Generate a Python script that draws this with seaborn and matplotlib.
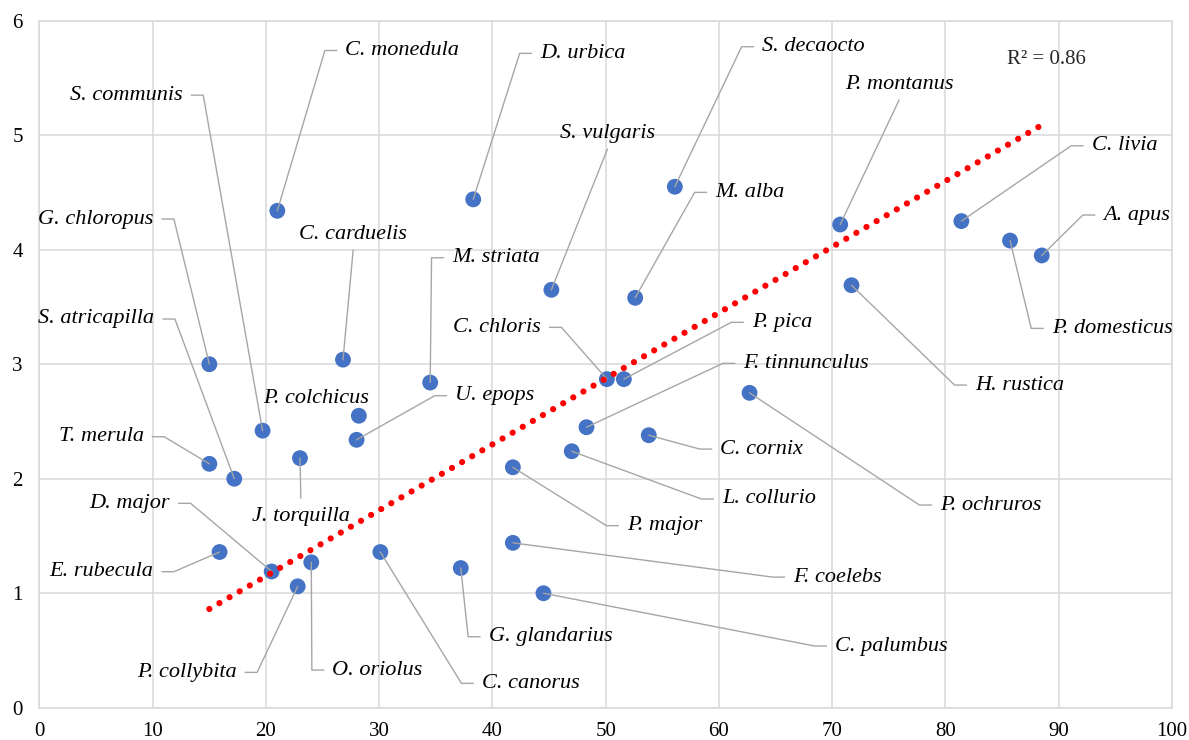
import numpy as np
import pandas as pd
import seaborn as sns
import matplotlib.pyplot as plt

# data
species = ["C. monedula", "D. urbica", "S. decaocto", "S. vulgaris", "M. alba",
           "P. montanus", "C. livia", "P. domesticus", "A. apus", "H. rustica",
           "G. chloropus", "C. carduelis", "M. striata", "C. chloris", "P. pica",
           "P. ochruros", "F. tinnunculus", "C. cornix", "L. collurio", "P. major",
           "F. coelebs", "G. glandarius", "C. palumbus", "U. epops", "P. colchicus",
           "S. communis", "S. atricapilla", "T. merula", "J. torquilla", "D. major",
           "E. rubecula", "P. collybita", "O. oriolus", "C. canorus"]
x_vals = [21.0, 38.3, 56.1, 45.2, 52.6,
          70.7, 81.4, 85.7, 88.5, 71.7,
          15.0, 26.8, 34.5, 50.1, 51.6,
          62.7, 48.3, 53.8, 47.0, 41.8,
          41.8, 37.2, 44.5, 28.0, 28.2,
          19.7, 17.2, 15.0, 23.0, 20.5,
          15.9, 22.8, 24.0, 30.1]
y_vals = [4.34, 4.44, 4.55, 3.65, 3.58,
          4.22, 4.25, 4.08, 3.95, 3.69,
          3.00, 3.04, 2.84, 2.87, 2.87,
          2.75, 2.45, 2.38, 2.24, 2.10,
          1.44, 1.22, 1.00, 2.34, 2.55,
          2.42, 2.00, 2.13, 2.18, 1.19,
          1.36, 1.06, 1.27, 1.36]
x_ticks = list(range(0, 101, 10))
y_ticks = list(range(0, 7))
r2_text = "R\u00b2 = 0.86"

# label placement (layout only): side, leader elbow x, elbow y
label_layout = {
    "C. monedula": ("r", 25.2, 5.74),
    "D. urbica": ("r", 42.4, 5.715),
    "S. decaocto": ("r", 62.0, 5.773),
    "P. montanus": ("a", 75.9, 5.307),
    "C. livia": ("r", 91.1, 4.908),
    "A. apus": ("r", 92.13, 4.303),
    "P. domesticus": ("r", 87.57, 3.313),
    "H. rustica": ("r", 80.8, 2.818),
    "P. ochruros": ("r", 77.7, 1.770),
    "F. coelebs": ("r", 64.74, 1.141),
    "C. palumbus": ("r", 68.45, 0.539),
    "C. cornix": ("r", 58.3, 2.259),
    "L. collurio": ("r", 58.45, 1.823),
    "P. major": ("r", 50.06, 1.590),
    "G. glandarius": ("r", 37.85, 0.620),
    "C. canorus": ("r", 37.26, 0.213),
    "O. oriolus": ("r", 24.05, 0.329),
    "P. collybita": ("l", 19.22, 0.309),
    "E. rubecula": ("l", 11.87, 1.188),
    "D. major": ("l", 13.35, 1.785),
    "T. merula": ("l", 11.01, 2.367),
    "J. torquilla": ("b", 23.08, 1.829),
    "P. colchicus": ("n", 24.39, 2.70),
    "S. atricapilla": ("l", 11.96, 3.395),
    "G. chloropus": ("l", 11.87, 4.268),
    "S. communis": ("l", 14.46, 5.350),
    "C. carduelis": ("a", 27.7, 3.997),
    "M. striata": ("r", 34.62, 3.930),
    "S. vulgaris": ("a", 50.15, 4.879),
    "M. alba": ("r", 57.85, 4.501),
    "C. chloris": ("l", 46.09, 3.322),
    "P. pica": ("r", 61.09, 3.366),
    "F. tinnunculus": ("r", 60.35, 3.008),
    "U. epops": ("r", 34.9, 2.725),
}

df = pd.DataFrame({"species": species, "x": x_vals, "y": y_vals})

sns.set_style("whitegrid")
plt.rcParams["font.family"] = ["Liberation Serif", "DejaVu Serif"]

fig, ax = plt.subplots(figsize=(11.89, 7.4), dpi=100)
fig.subplots_adjust(left=0.0332, right=0.9857, bottom=0.0436, top=0.972)

sns.scatterplot(data=df, x="x", y="y", s=130, color="#4472C4",
                edgecolor="none", ax=ax, zorder=3, legend=False)

# linear trend forced through the origin (Excel style)
slope = (df.x * df.y).sum() / (df.x ** 2).sum()
xt = np.array([df.x.min(), df.x.max()])
ax.plot(xt, slope * xt, color="#FF0000", lw=4.5, ls=(0, (0.001, 1.87)),
        dash_capstyle="round", zorder=5)

# labels + leader lines
stub = 1.06
gap = 0.75
lead = dict(color="#A6A6A6", lw=1.0, zorder=4)
txt = dict(fontsize=16, style="italic", color="black", va="center")
for name, px, py in zip(df.species, df.x, df.y):
    side, ex, ey = label_layout[name]
    if side == "r":
        ax.plot([px, ex, ex + stub], [py, ey, ey], **lead)
        ax.text(ex + stub + gap, ey, name, ha="left", **txt)
    elif side == "l":
        ax.plot([px, ex, ex - stub], [py, ey, ey], **lead)
        ax.text(ex - stub - gap, ey, name, ha="right", **txt)
    elif side == "a":
        ax.plot([px, ex], [py, ey], **lead)
        ax.text(ex, ey + 0.14, name, ha="center", **txt)
    elif side == "b":
        ax.plot([px, ex], [py, ey], **lead)
        ax.text(ex, ey - 0.16, name, ha="center", **txt)
    else:
        ax.text(ex, ey, name, ha="center", **txt)

ax.text(88.9, 5.663, r2_text, ha="center", va="center", fontsize=15)

ax.set_xlim(0, 100)
ax.set_ylim(0, 6)
ax.set_xticks(x_ticks)
ax.set_yticks(y_ticks)
ax.set_xlabel("")
ax.set_ylabel("")
ax.grid(True, color="#D9D9D9", lw=1.1)
for sp in ax.spines.values():
    sp.set_color("#D9D9D9")
    sp.set_linewidth(1.1)
ax.tick_params(length=0, labelsize=15, colors="black")
ax.tick_params(axis="x", pad=10)
ax.tick_params(axis="y", pad=12)

plt.savefig("out.png", dpi=100)
